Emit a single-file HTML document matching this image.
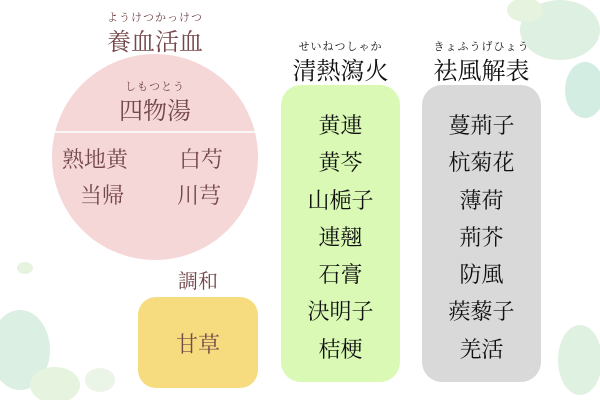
<!DOCTYPE html>
<html><head><meta charset="utf-8"><style>
body{margin:0;width:600px;height:400px;background:#fff;position:relative;overflow:hidden;font-family:"Liberation Serif","Noto Serif CJK SC",serif}
.a{position:absolute;white-space:nowrap;text-align:center}
.br{color:#74474a}
.rb{font-size:11px;letter-spacing:1px}
.t{font-size:24px}
.col{position:absolute;top:85px;width:119px;height:297px;border-radius:20px}
.items{position:absolute;left:0;width:100%;top:22px;text-align:center;font-size:22px;line-height:37.3px;color:#111}
</style></head><body>
<svg width="600" height="400" style="position:absolute;left:0;top:0">
<g opacity="0.5">
<ellipse cx="560" cy="30" rx="40" ry="30" fill="#bfe3c4"/>
<ellipse cx="585" cy="90" rx="20" ry="28" fill="#a9dcc8"/>
<ellipse cx="525" cy="10" rx="18" ry="12" fill="#cde8c0"/>
<ellipse cx="20" cy="350" rx="30" ry="40" fill="#b9e0c6"/>
<ellipse cx="55" cy="385" rx="25" ry="18" fill="#cde8c0"/>
<ellipse cx="100" cy="380" rx="15" ry="12" fill="#d8ecd0"/>
<ellipse cx="580" cy="360" rx="22" ry="35" fill="#bfe3c4"/>
<ellipse cx="25" cy="268" rx="8" ry="6" fill="#cde8c0"/>
</g>
<circle cx="155" cy="157" r="103" fill="#f5d7d8"/>
<line x1="52" y1="132" x2="258" y2="132" stroke="#fff" stroke-width="1.5"/>
</svg>
<div class="a br rb" style="left:55px;width:200px;top:9px">ようけつかっけつ</div>
<div class="a br t" style="left:55px;width:200px;top:22px">養血活血</div>
<div class="a br rb" style="left:55px;width:200px;top:78px">しもつとう</div>
<div class="a br t" style="left:55px;width:200px;top:91px">四物湯</div>
<div class="a br" style="font-size:22px;left:62px;top:143px">熟地黄</div>
<div class="a br" style="font-size:22px;left:179px;top:143px">白芍</div>
<div class="a br" style="font-size:22px;left:80px;top:179px">当帰</div>
<div class="a br" style="font-size:22px;left:177px;top:179px">川芎</div>
<div class="a br" style="font-size:20px;left:138px;width:120px;top:265px">調和</div>
<div class="col" style="left:138px;top:297px;width:120px;height:91px;background:#f6dc7f;border-radius:18px"></div>
<div class="a br" style="font-size:22px;left:138px;width:120px;top:328px">甘草</div>
<div class="a rb" style="left:281px;width:119px;top:38px;color:#111">せいねつしゃか</div>
<div class="a t" style="left:281px;width:119px;top:51px;color:#111">清熱瀉火</div>
<div class="a rb" style="left:422px;width:119px;top:38px;color:#111">きょふうげひょう</div>
<div class="a t" style="left:422px;width:119px;top:51px;color:#111">祛風解表</div>
<div class="col" style="left:281px;background:#d9f9b5"><div class="items">黄連<br>黄芩<br>山梔子<br>連翹<br>石膏<br>決明子<br>桔梗</div></div>
<div class="col" style="left:422px;background:#d9d9d9"><div class="items">蔓荊子<br>杭菊花<br>薄荷<br>荊芥<br>防風<br>蒺藜子<br>羌活</div></div>
</body></html>
